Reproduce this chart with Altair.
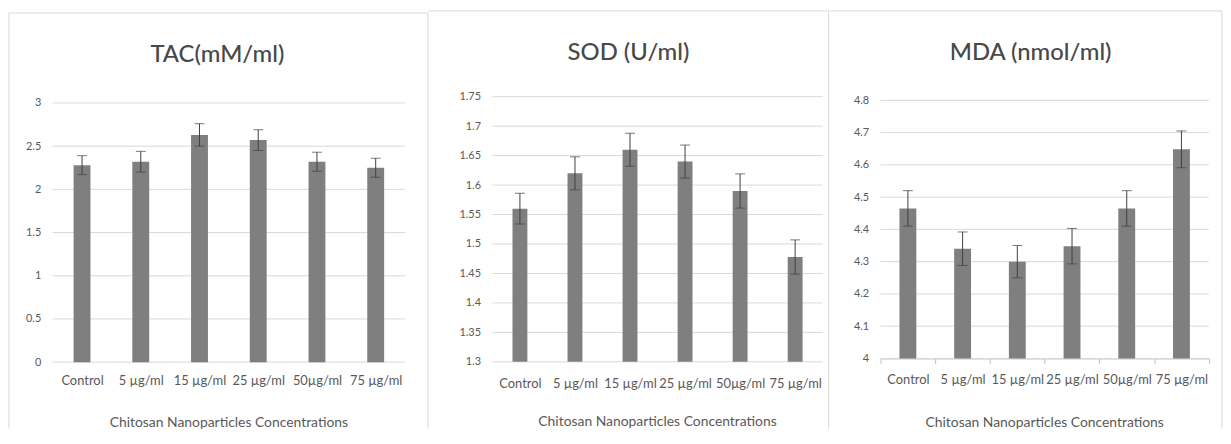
import altair as alt
import pandas as pd

categories = ["Control", "5 µg/ml", "15 µg/ml", "25 µg/ml", "50µg/ml", "75 µg/ml"]

tac_values = [2.28, 2.32, 2.63, 2.57, 2.32, 2.25]
tac_errors = [0.11, 0.12, 0.13, 0.12, 0.11, 0.11]
sod_values = [1.56, 1.62, 1.66, 1.64, 1.59, 1.478]
sod_errors = [0.026, 0.028, 0.028, 0.028, 0.029, 0.029]
mda_values = [4.465, 4.34, 4.30, 4.348, 4.465, 4.648]
mda_errors = [0.055, 0.052, 0.05, 0.055, 0.055, 0.057]

panel_titles = ["TAC(mM/ml)", "SOD (U/ml)", "MDA (nmol/ml)"]
x_title = "Chitosan Nanoparticles Concentrations"

tac_ticks = [0, 0.5, 1, 1.5, 2, 2.5, 3]
sod_ticks = [1.3, 1.35, 1.4, 1.45, 1.5, 1.55, 1.6, 1.65, 1.7, 1.75]
mda_ticks = [4, 4.1, 4.2, 4.3, 4.4, 4.5, 4.6, 4.7, 4.8]

FONT = "Lato"
TEXT = "#595959"
TITLE = "#484848"
GRID = "#d9d9d9"
BAR = "#7f7f7f"
ERR = "#404040"
FRAME = "#d9d9d9"


def panel(values, errors, ticks, title, geo, axis_line=False):
    df = pd.DataFrame({
        "cat": categories,
        "value": values,
        "lo": [v - e for v, e in zip(values, errors)],
        "hi": [v + e for v, e in zip(values, errors)],
    })
    tdf = pd.DataFrame({"t": ticks})
    one = pd.DataFrame({"k": [0]})
    dmin, dmax = ticks[0], ticks[-1]
    wp, h = geo["wp"], geo["h"]

    xaxis = alt.Axis(
        title=None, labelAngle=0, labelFont=FONT, labelFontSize=13,
        labelColor=TEXT, labelOverlap=False, labelBound=False,
        labelPadding=geo["xpad"], grid=False,
        domain=axis_line, domainColor="#bfbfbf",
        ticks=axis_line, tickColor="#bfbfbf", tickSize=5, tickBand="extent",
    )
    yaxis = alt.Axis(
        title=None, values=ticks, format="~g", labelFont=FONT, labelFontSize=11,
        labelColor=TEXT, domain=False, ticks=False, grid=False,
        labelPadding=12, labelOverlap=False,
    )
    xs = alt.Scale(paddingInner=0, paddingOuter=0, range=[0, wp])
    ys = alt.Scale(domain=[dmin, dmax], zero=False, nice=False,
                   range=[h, geo["ytop"]])

    def X():
        return alt.X("cat:N", sort=categories, axis=xaxis, scale=xs)

    def Y(field):
        return alt.Y(field, type="quantitative", scale=ys, axis=yaxis)

    grid = alt.Chart(tdf).mark_rule(color=GRID, strokeWidth=1).encode(
        y=Y("t"), x=alt.value(0), x2=alt.value(wp))

    base = alt.Chart(df)
    bars = base.mark_bar(size=geo["bw"], color=BAR).encode(
        x=X(), y=Y("value"), y2=alt.datum(dmin))
    err = base.mark_rule(color=ERR, strokeWidth=1).encode(
        x=X(), y=Y("lo"), y2="hi:Q")
    cap_lo = base.mark_tick(color=ERR, size=10, thickness=1).encode(
        x=X(), y=Y("lo"))
    cap_hi = base.mark_tick(color=ERR, size=10, thickness=1).encode(
        x=X(), y=Y("hi"))

    layers = [grid, bars, err, cap_lo, cap_hi]

    fr = alt.Chart(one)
    layers.append(fr.mark_rule(color=FRAME, strokeWidth=1).encode(
        x=alt.value(geo["left"]), x2=alt.value(geo["right"]),
        y=alt.value(geo["top"])))
    layers.append(fr.mark_rule(color=FRAME, strokeWidth=1).encode(
        x=alt.value(geo["right"]), y=alt.value(geo["top"]),
        y2=alt.value(geo["bottom"])))
    if geo.get("leftline"):
        layers.append(fr.mark_rule(color=FRAME, strokeWidth=1).encode(
            x=alt.value(geo["left"]), y=alt.value(geo["top"]),
            y2=alt.value(geo["bottom"])))

    layers.append(fr.mark_text(font=FONT, fontSize=24, fontWeight=500,
                               color=TITLE, baseline="middle",
                               align="center").encode(
        x=alt.value(geo["tx"]), y=alt.value(geo["ty"]), text=alt.value(title)))
    layers.append(fr.mark_text(font=FONT, fontSize=14, color=TEXT,
                               baseline="middle", align="center").encode(
        x=alt.value(wp / 2), y=alt.value(geo["aty"]), text=alt.value(x_title)))

    return alt.layer(*layers).properties(width=geo["w"], height=h)


# page targets: plot x0 = 52.6 / 495.2 / 885.3 ; common plot top y = 95.7
g1 = dict(w=442.6, wp=355, h=267.4, ytop=6.3, bw=17, left=-44.1, right=378,
          top=-84.4, bottom=334.3, leftline=True, tx=165.9, ty=-42.1,
          aty=328.6, xpad=13)
g2 = dict(w=390.1, wp=332.7, h=267.1, ytop=0, bw=15, left=-64.5, right=338.7,
          top=-86.4, bottom=334.3, tx=137.1, ty=-44.1, aty=327.6, xpad=16)
g3 = dict(w=330.7, wp=330.7, h=263.7, ytop=3.6, bw=17, left=-51.4, right=344.0,
          top=-86.4, bottom=334.3, tx=151.2, ty=-44.1, aty=328.6, xpad=10)

p1 = panel(tac_values, tac_errors, tac_ticks, panel_titles[0], g1)
p2 = panel(sod_values, sod_errors, sod_ticks, panel_titles[1], g2)
p3 = panel(mda_values, mda_errors, mda_ticks, panel_titles[2], g3, axis_line=True)

chart = alt.hconcat(p1, p2, p3, spacing=0, bounds="flush").resolve_scale(
    y="independent").properties(
    padding={"left": 0, "top": 0.8, "right": 0, "bottom": 0},
    background="#ffffff",
).configure_view(stroke=None)

chart.save("out.html", embed_options={"renderer": "svg", "actions": False})
